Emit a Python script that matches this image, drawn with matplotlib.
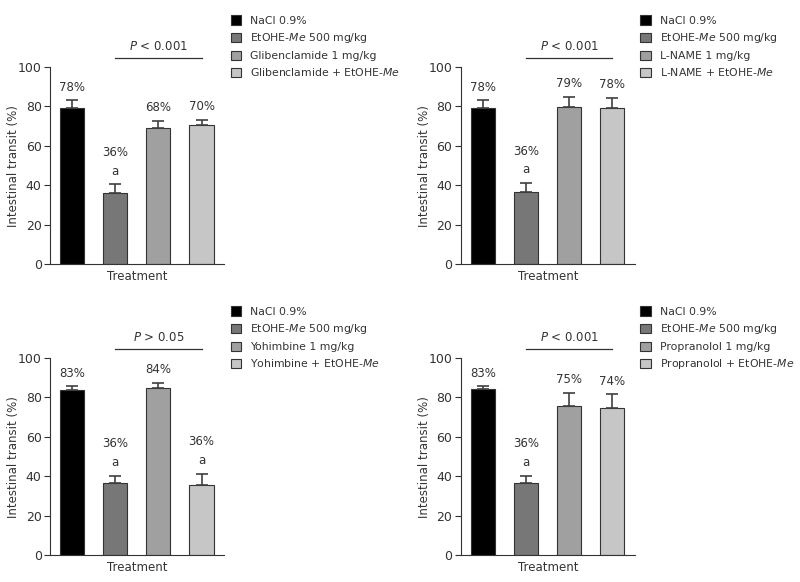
import matplotlib
matplotlib.use("Agg")
import matplotlib.pyplot as plt
import matplotlib.patches as patches

plt.rcParams["font.family"] = ["DejaVu Sans"]
plt.rcParams["font.size"] = 8.5
plt.rcParams["mathtext.fontset"] = "dejavusans"

ME = "EtOHE-$\\mathit{Me}$"

# data
labels_glib = ["NaCl 0.9%", ME + " 500 mg/kg", "Glibenclamide 1 mg/kg", "Glibenclamide + " + ME]
means_glib = [79, 36.3, 69, 70.5]
err_glib = [4, 4.3, 3.8, 2.8]
pct_glib = ["78%", "36%", "68%", "70%"]
sig_glib = ["", "a", "", ""]
p_glib = "< 0.001"

labels_lname = ["NaCl 0.9%", ME + " 500 mg/kg", "L-NAME 1 mg/kg", "L-NAME + " + ME]
means_lname = [79, 36.4, 79.5, 79]
err_lname = [4, 4.9, 5.5, 5.5]
pct_lname = ["78%", "36%", "79%", "78%"]
sig_lname = ["", "a", "", ""]
p_lname = "< 0.001"

labels_yoh = ["NaCl 0.9%", ME + " 500 mg/kg", "Yohimbine 1 mg/kg", "Yohimbine + " + ME]
means_yoh = [83.9, 36.5, 84.6, 35.8]
err_yoh = [1.9, 3.9, 2.9, 5.6]
pct_yoh = ["83%", "36%", "84%", "36%"]
sig_yoh = ["", "a", "", "a"]
p_yoh = "> 0.05"

labels_prop = ["NaCl 0.9%", ME + " 500 mg/kg", "Propranolol 1 mg/kg", "Propranolol + " + ME]
means_prop = [84.1, 36.5, 75.8, 74.8]
err_prop = [1.7, 3.9, 6.6, 6.8]
pct_prop = ["83%", "36%", "75%", "74%"]
sig_prop = ["", "a", "", ""]
p_prop = "< 0.001"

colors = ["#000000", "#777777", "#a0a0a0", "#c6c6c6"]
dark = "#333333"


def draw_panel(ax, labels, means, errs, pcts, sigs, pval, leg_xy, fig):

    x = range(len(means))

    ax.bar(x, means, width=0.56, color=colors, edgecolor=dark, linewidth=0.8, zorder=2)

    for i in x:
        ax.errorbar(i, means[i], yerr=[[0], [errs[i]]], fmt="none",
                    ecolor="#404040", elinewidth=1.2, capsize=4.5, capthick=1.2, zorder=3)
        top = means[i] + errs[i]
        if sigs[i]:
            ax.text(i, top + 6.5, sigs[i], ha="center", va="center", color=dark)
            ax.text(i, top + 16, pcts[i], ha="center", va="center", color=dark)
        else:
            ax.text(i, top + 6.5, pcts[i], ha="center", va="center", color=dark)

    # significance line over bars 2-4
    ax.plot([1, 3], [104.4, 104.4], color=dark, linewidth=0.9, clip_on=False)
    ax.text(2, 110.5, "$\\mathit{P}$ " + pval, ha="center", va="center", color=dark)

    ax.set_xlim(-0.51, 3.52)
    ax.set_ylim(0, 100)
    ax.set_yticks([0, 20, 40, 60, 80, 100])
    ax.set_xticks([])
    ax.set_xlabel("Treatment", labelpad=4, color=dark)
    ax.set_ylabel("Intestinal transit (%)", color=dark)
    ax.yaxis.set_label_coords(-0.17, 0.5)

    ax.spines["top"].set_visible(False)
    ax.spines["right"].set_visible(False)
    ax.spines["left"].set_color(dark)
    ax.spines["bottom"].set_color(dark)
    ax.tick_params(axis="y", direction="out", length=4, width=0.8, pad=2,
                   colors=dark, labelsize=9)

    handles = [patches.Patch(facecolor=c, edgecolor=dark, linewidth=0.8) for c in colors]
    fig.legend(handles, labels, loc="upper left", bbox_to_anchor=leg_xy,
               frameon=False, handlelength=0.95, handleheight=0.95,
               handletextpad=0.85, labelspacing=0.5, borderaxespad=0,
               fontsize=7.8, labelcolor=dark)


fig = plt.figure(figsize=(8, 5.82), dpi=100)

ax1 = fig.add_axes([0.0625, 0.546, 0.2175, 0.339])
ax2 = fig.add_axes([0.576, 0.546, 0.2175, 0.339])
ax3 = fig.add_axes([0.0625, 0.046, 0.2175, 0.339])
ax4 = fig.add_axes([0.576, 0.046, 0.2175, 0.339])

draw_panel(ax1, labels_glib, means_glib, err_glib, pct_glib, sig_glib, p_glib, (0.283, 0.981), fig)
draw_panel(ax2, labels_lname, means_lname, err_lname, pct_lname, sig_lname, p_lname, (0.795, 0.981), fig)
draw_panel(ax3, labels_yoh, means_yoh, err_yoh, pct_yoh, sig_yoh, p_yoh, (0.283, 0.481), fig)
draw_panel(ax4, labels_prop, means_prop, err_prop, pct_prop, sig_prop, p_prop, (0.795, 0.481), fig)

fig.savefig("out.png", dpi=100)
